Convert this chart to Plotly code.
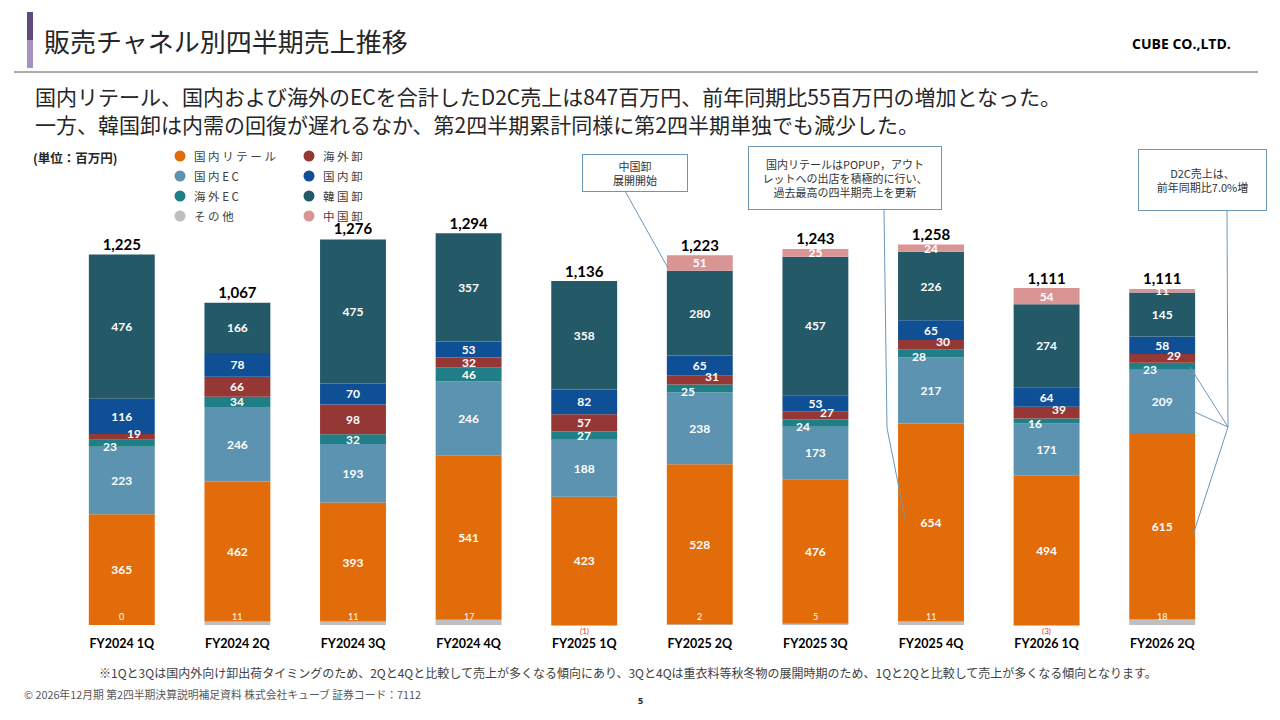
import plotly.graph_objects as go

categories = ["FY2024 1Q", "FY2024 2Q", "FY2024 3Q", "FY2024 4Q", "FY2025 1Q",
              "FY2025 2Q", "FY2025 3Q", "FY2025 4Q", "FY2026 1Q", "FY2026 2Q"]
other = [0, 11, 11, 17, -1, 2, 5, 11, -3, 18]
retail = [365, 462, 393, 541, 423, 528, 476, 654, 494, 615]
dom_ec = [223, 246, 193, 246, 188, 238, 173, 217, 171, 209]
ovs_ec = [23, 34, 32, 46, 27, 25, 24, 28, 16, 23]
ovs_whl = [19, 66, 98, 32, 57, 31, 27, 30, 39, 29]
dom_whl = [116, 78, 70, 53, 82, 65, 53, 65, 64, 58]
korea = [476, 166, 475, 357, 358, 280, 457, 226, 274, 145]
china = [0, 0, 0, 0, 0, 51, 25, 24, 54, 11]
totals = [1225, 1067, 1276, 1294, 1136, 1223, 1243, 1258, 1111, 1111]

series_names = ["その他", "国内リテール", "国内EC", "海外EC", "海外卸", "国内卸", "韓国卸", "中国卸"]
series_vals = [other, retail, dom_ec, ovs_ec, ovs_whl, dom_whl, korea, china]
colors = ["#BFBFBF", "#E36C0A", "#5B93B0", "#1F7E86", "#953735", "#0F4F95", "#245A68", "#D99594"]

legend_col1 = ["国内リテール", "国内EC", "海外EC", "その他"]
legend_col2 = ["海外卸", "国内卸", "韓国卸", "中国卸"]

JP = "Noto Sans CJK JP"
NUM = "Lato, Noto Sans CJK JP"
SMALL = ("海外EC", "海外卸")

fig = go.Figure()
for name, vals, col in zip(series_names, series_vals, colors):
    if name == "その他" or name in SMALL:
        txt = None
    else:
        txt = [f"<b>{v}</b>" if v else "" for v in vals]
    fig.add_trace(go.Bar(
        x=categories, y=vals, name=name, marker=dict(color=col, line=dict(width=0)),
        text=txt, textposition="inside" if txt else "none", insidetextanchor="middle",
        textangle=0, textfont=dict(color="white", size=12, family=NUM),
        showlegend=False, hoverinfo="skip"))

fig.add_trace(go.Scatter(
    x=categories, y=totals, mode="text",
    text=[f"<b>{t:,}</b>" for t in totals], textposition="top center",
    textfont=dict(size=15, color="black", family=NUM), showlegend=False, hoverinfo="skip"))

# labels for the thin 海外EC / 海外卸 segments (nudged apart when both are thin)
for i, c in enumerate(categories):
    base_ec = max(other[i], 0) + retail[i] + dom_ec[i]
    base_wh = base_ec + ovs_ec[i]
    thin = ovs_ec[i] < 30 and ovs_whl[i] < 40
    fig.add_annotation(x=c, y=base_ec + ovs_ec[i] / 2, text=f"<b>{ovs_ec[i]}</b>", showarrow=False,
                       xshift=-12 if thin else 0, yshift=-3 if thin else 0,
                       font=dict(size=12, color="white", family=NUM))
    fig.add_annotation(x=c, y=base_wh + ovs_whl[i] / 2, text=f"<b>{ovs_whl[i]}</b>", showarrow=False,
                       xshift=12 if thin else 0, yshift=3 if thin else 0,
                       font=dict(size=12, color="white", family=NUM))

# その他 labels
for c, v in zip(categories, other):
    if v < 0:
        fig.add_annotation(x=c, y=0, text=f"({-v})", showarrow=False, yanchor="top",
                           yshift=1, font=dict(size=8, color="#E03030", family=NUM))
    else:
        fig.add_annotation(x=c, y=0, text=str(v), showarrow=False, yanchor="bottom",
                           yshift=1, font=dict(size=9, color="white", family=NUM))

# page sits 8px in from the window corner; targets below are in window pixels
OFF = 8
W, H = 1280, 720
L = 64 - OFF
R = W - (1220 - OFF)
T = 160 - OFF
B = H - (631 - OFF)
def px(x):
    return (x - OFF - L) / (W - L - R)
def py(y):
    return (H - B - (y - OFF)) / (H - T - B)

shapes = []
shapes.append(dict(type="rect", xref="paper", yref="paper", x0=px(27), x1=px(33), y0=py(68), y1=py(40),
                   fillcolor="#A393BE", line=dict(width=0)))
shapes.append(dict(type="rect", xref="paper", yref="paper", x0=px(27), x1=px(33), y0=py(40), y1=py(12),
                   fillcolor="#5E4B7E", line=dict(width=0)))
shapes.append(dict(type="line", xref="paper", yref="paper", x0=px(14), x1=px(1258), y0=py(72), y1=py(72),
                   line=dict(color="#595959", width=1)))

for i, (n1, n2) in enumerate(zip(legend_col1, legend_col2)):
    yy = 156 + i * 20
    for xx, n in ((180, n1), (309, n2)):
        col = colors[series_names.index(n)]
        shapes.append(dict(type="circle", xref="paper", yref="paper",
                           x0=px(xx - 5.5), x1=px(xx + 5.5), y0=py(yy + 5.5), y1=py(yy - 5.5),
                           fillcolor=col, line=dict(width=0)))
        fig.add_annotation(xref="paper", yref="paper", x=px(xx + 12), y=py(yy), xanchor="left",
                           yanchor="middle", showarrow=False, text=" ".join(n),
                           font=dict(size=11.5, color="#404040", family=JP))

LC = "#6A97BC"
def seg(a, b):
    shapes.append(dict(type="line", xref="paper", yref="paper", x0=px(a[0]), y0=py(a[1]),
                       x1=px(b[0]), y1=py(b[1]), line=dict(color=LC, width=1)))

seg((625, 191), (668, 268))
seg((884, 210), (887, 428))
seg((887, 428), (905, 518))
seg((1227, 211), (1228, 427))
seg((1228, 427), (1190, 367))
seg((1228, 427), (1190, 410))
seg((1228, 427), (1193, 535))

def callout(cx, cy, w, h, text):
    fig.add_annotation(xref="paper", yref="paper", x=px(cx), y=py(cy), xanchor="center", yanchor="middle",
                       showarrow=False, text=text, width=w, height=h, borderpad=3,
                       bordercolor=LC, borderwidth=1, bgcolor="white",
                       font=dict(size=11, color="#333333", family=JP), align="center")

callout(635, 173, 98, 30, "中国卸<br>展開開始")
callout(845, 178, 186, 56, "国内リテールはPOPUP，アウト<br>レットへの出店を積極的に行い、<br>過去最高の四半期売上を更新")
callout(1202, 180, 121, 54, "D2C売上は、<br>前年同期比7.0%増")

def text(x, y, s, size, color="#333333", anchor="left", family=JP):
    fig.add_annotation(xref="paper", yref="paper", x=px(x), y=py(y), xanchor=anchor, yanchor="middle",
                       showarrow=False, text=s, font=dict(size=size, color=color, family=family))

text(42, 40, "販売チャネル別四半期売上推移", 26, "#262626")
text(1233, 43, "<b>CUBE CO.,LTD.</b>", 14, "#000000", anchor="right", family="Open Sans")
text(33, 96, "国内リテール、国内および海外のECを合計したD2C売上は847百万円、前年同期比55百万円の増加となった。", 21, "#262626")
text(33, 124, "一方、韓国卸は内需の回復が遅れるなか、第2四半期累計同様に第2四半期単独でも減少した。", 21, "#262626")
text(31, 157, "<b>(単位：百万円)</b>", 12.5, "#262626")
text(628, 672, "※1Qと3Qは国内外向け卸出荷タイミングのため、2Qと4Qと比較して売上が多くなる傾向にあり、3Qと4Qは重衣料等秋冬物の展開時期のため、1Qと2Qと比較して売上が多くなる傾向となります。",
     12, "#404040", anchor="center")
text(22, 694, "© 2026年12月期 第2四半期決算説明補足資料 株式会社キューブ 証券コード：7112", 10.8, "#595959")
text(640, 700, "<b>5</b>", 9, "#262626", anchor="center", family="Open Sans")

fig.update_layout(
    width=W, height=H, barmode="relative", bargap=0.43,
    margin=dict(l=L, r=R, t=T, b=B, autoexpand=False),
    plot_bgcolor="white", paper_bgcolor="white",
    uniformtext=dict(minsize=12, mode="show"),
    shapes=shapes,
    xaxis=dict(showgrid=False, showline=False, zeroline=False, ticks="",
               tickfont=dict(size=12.5, color="black", family=NUM), ticklabelstandoff=3,
               tickvals=categories, ticktext=[f"<b>{c}</b>" for c in categories]),
    yaxis=dict(visible=False, range=[-20, 1534], showgrid=False, zeroline=False),
)
fig.write_html("out.html")
